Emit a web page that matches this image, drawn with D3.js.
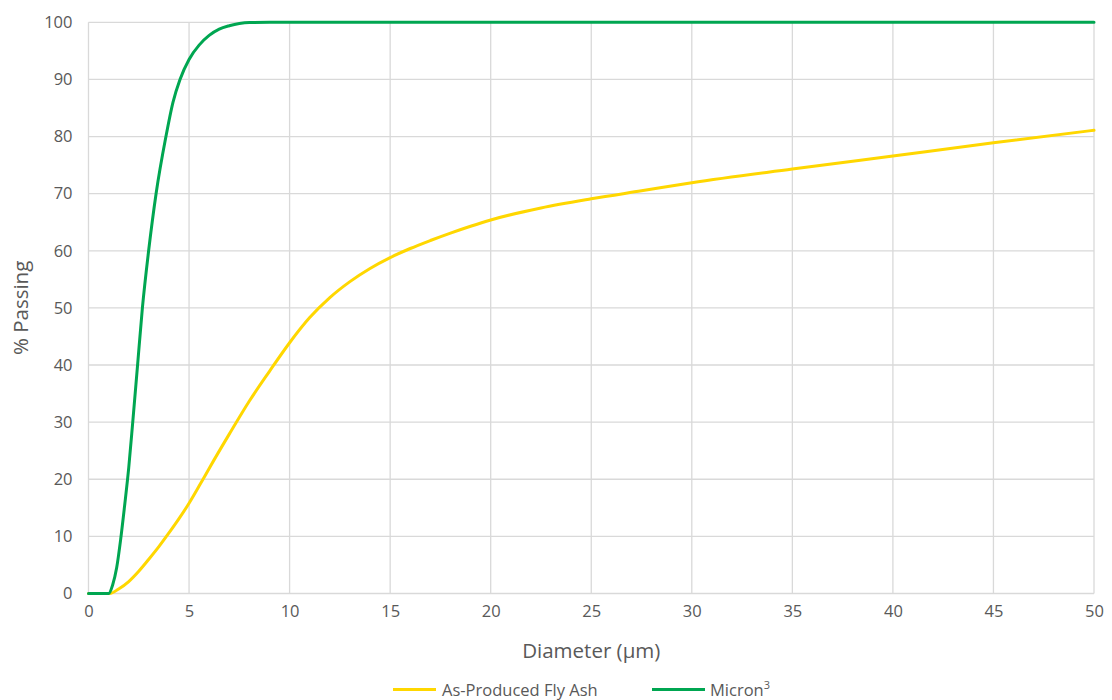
<!DOCTYPE html>
<html>
<head>
<meta charset="utf-8">
<script src="https://cdn.jsdelivr.net/npm/d3@7"></script>
<style>
  html, body { margin: 0; padding: 0; background: #ffffff; }
  svg { display: block; }
  text { font-family: "Open Sans", "Liberation Sans", sans-serif; fill: #595959; }
</style>
</head>
<body>
<svg id="chart" width="1112" height="700"></svg>
<script>
// ---- Data ----
const flyAshDiameter = [0, 1.05, 1.5, 2, 2.5, 3, 3.5, 4, 4.5, 5, 5.5, 6, 7, 8, 9, 10, 11, 12, 13, 14, 15, 16, 17, 18, 19, 20, 22.5, 25, 27.5, 30, 35, 40, 45, 50];
const flyAshPassing  = [0, 0, 0.8, 2.1, 3.9, 6.0, 8.2, 10.6, 13.1, 15.8, 18.8, 21.9, 27.9, 33.7, 38.9, 43.9, 48.3, 51.8, 54.6, 56.9, 58.8, 60.4, 61.8, 63.1, 64.3, 65.4, 67.5, 69.1, 70.5, 71.9, 74.3, 76.6, 78.9, 81.1];

const micronDiameter = [0, 1.0, 1.2, 1.4, 1.6, 1.8, 2.0, 2.2, 2.44, 2.68, 2.99, 3.36, 3.85, 4.2, 4.55, 5, 5.5, 6, 6.5, 7, 7.5, 8, 9, 50];
const micronPassing  = [0, 0, 1.5, 4.5, 9.5, 15.5, 22, 30, 40, 50, 60, 70, 80, 86, 90, 93.5, 96, 97.7, 98.8, 99.4, 99.8, 99.97, 100, 100];

const xTicks = [0, 5, 10, 15, 20, 25, 30, 35, 40, 45, 50];
const yTicks = [0, 10, 20, 30, 40, 50, 60, 70, 80, 90, 100];
const seriesNames = ["As-Produced Fly Ash", "Micron"];
const seriesColors = ["#FFD700", "#00A651"];

// ---- Layout ----
const svg = d3.select("#chart");
const margin = { left: 88.5, right: 1094, top: 22.3, bottom: 593.5 };

const x = d3.scaleLinear().domain([0, 50]).range([margin.left, margin.right]);
const y = d3.scaleLinear().domain([0, 100]).range([margin.bottom, margin.top]);

// Gridlines
const grid = svg.append("g");
grid.selectAll("line.h").data(yTicks).enter().append("line")
  .attr("x1", margin.left).attr("x2", margin.right)
  .attr("y1", d => y(d)).attr("y2", d => y(d))
  .attr("stroke", "#d9d9d9").attr("stroke-width", 1.3);
grid.selectAll("line.v").data(xTicks).enter().append("line")
  .attr("y1", margin.top).attr("y2", margin.bottom)
  .attr("x1", d => x(d)).attr("x2", d => x(d))
  .attr("stroke", "#d9d9d9").attr("stroke-width", 1.3);

// Axes via d3 axis generators (labels only)
const xAxis = svg.append("g")
  .attr("transform", `translate(0,${margin.bottom})`)
  .call(d3.axisBottom(x).tickValues(xTicks).tickSize(0).tickPadding(12).tickFormat(d3.format("d")));
xAxis.select(".domain").remove();
xAxis.selectAll("text").attr("font-size", 16.5).attr("fill", "#595959")
  .style("font-family", '"Open Sans", sans-serif');

const yAxis = svg.append("g")
  .attr("transform", `translate(${margin.left},0)`)
  .call(d3.axisLeft(y).tickValues(yTicks).tickSize(0).tickPadding(16).tickFormat(d3.format("d")));
yAxis.select(".domain").remove();
yAxis.selectAll("text").attr("font-size", 16.5).attr("fill", "#595959")
  .style("font-family", '"Open Sans", sans-serif');

// Axis titles
svg.append("text")
  .attr("x", (margin.left + margin.right) / 2)
  .attr("y", 658)
  .attr("text-anchor", "middle")
  .attr("font-size", 20.5)
  .text("Diameter (µm)");

svg.append("text")
  .attr("transform", `translate(28,${(margin.top + margin.bottom) / 2}) rotate(-90)`)
  .attr("text-anchor", "middle")
  .attr("font-size", 20.5)
  .text("% Passing");

// Lines
const line = d3.line()
  .x(d => x(d[0]))
  .y(d => y(d[1]))
  .curve(d3.curveMonotoneX);

const flyData = flyAshDiameter.map((d, i) => [d, flyAshPassing[i]]);
const micData = micronDiameter.map((d, i) => [d, micronPassing[i]]);

svg.append("path").datum(flyData)
  .attr("d", line).attr("fill", "none")
  .attr("stroke", seriesColors[0]).attr("stroke-width", 3)
  .attr("stroke-linejoin", "round").attr("stroke-linecap", "round");

svg.append("path").datum(micData)
  .attr("d", line).attr("fill", "none")
  .attr("stroke", seriesColors[1]).attr("stroke-width", 3)
  .attr("stroke-linejoin", "round").attr("stroke-linecap", "round");

// Legend
const legend = svg.append("g");
const legY = 689.5;
const items = [
  { x0: 393, x1: 436, tx: 442, name: seriesNames[0], color: seriesColors[0], sup: null },
  { x0: 652, x1: 705, tx: 710, name: seriesNames[1], color: seriesColors[1], sup: "3" }
];
items.forEach(it => {
  legend.append("line")
    .attr("x1", it.x0).attr("x2", it.x1)
    .attr("y1", legY).attr("y2", legY)
    .attr("stroke", it.color).attr("stroke-width", 3);
  const t = legend.append("text")
    .attr("x", it.tx).attr("y", legY + 6)
    .attr("font-size", 16.5)
    .text(it.name);
  if (it.sup) {
    t.append("tspan").attr("dy", -7).attr("font-size", 11).text(it.sup);
  }
});
</script>
</body>
</html>
